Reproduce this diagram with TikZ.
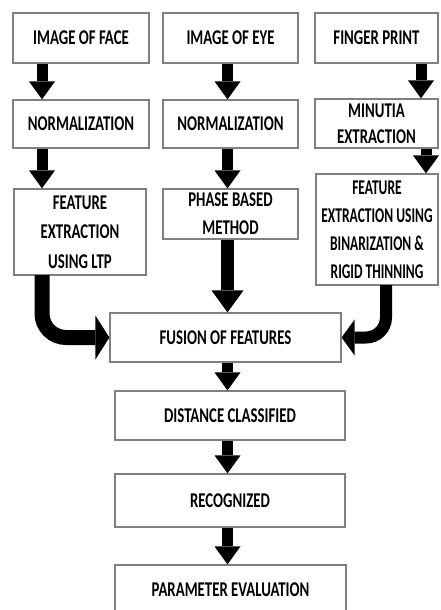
\documentclass[tikz,border=0pt]{standalone}
\usepackage{fontspec}
\newfontfamily\lblfont{Carlito}[FakeStretch=0.705]
\newfontfamily\lblfontn{Carlito}[FakeStretch=0.643]
\usetikzlibrary{arrows.meta,calc}
\definecolor{bordergray}{RGB}{128,128,128}
\begin{document}
\begin{tikzpicture}[x=1pt,y=-1pt,
  box/.style={draw=bordergray, line width=1.2pt, fill=white, inner sep=0pt,
    align=center, text=black,
    font=\lblfont\bfseries\fontsize{21}{29.5}\selectfont},
  tight/.style={font=\lblfont\bfseries\fontsize{21}{26}\selectfont},
  mid/.style={font=\lblfont\bfseries\fontsize{21}{28}\selectfont},
  narrow/.style={font=\lblfontn\bfseries\fontsize{21}{28}\selectfont},
  blk/.style={line width=11pt, -{Triangle[width=26pt,length=18pt,line width=0pt]}},
  bigblk/.style={line width=13pt, -{Triangle[width=32pt,length=22pt,line width=0pt]}},
  curvl/.style={line width=15pt, rounded corners=24pt,
    -{Triangle[width=44pt,length=14pt,line width=0pt]}},
  curvr/.style={line width=12pt, rounded corners=20pt,
    -{Triangle[width=36pt,length=13pt,line width=0pt]}}]
\fill[white] (0,0) rectangle (440,610);
\useasboundingbox (0,0) rectangle (440,610);

% column guides
\coordinate (cA) at (42,0);
\coordinate (cB) at (227.5,0);
\coordinate (cC) at (421,0);
\coordinate (cD) at (426,0);

% boxes
\node[box, minimum width=136pt, minimum height=50pt] (face) at (81,38) {IMAGE OF FACE};
\node[box, minimum width=135pt, minimum height=50pt] (eye) at (230.5,38) {IMAGE OF EYE};
\node[box, minimum width=123pt, minimum height=50pt] (finger) at (376.5,38) {FINGER PRINT};

\node[box, minimum width=136pt, minimum height=48pt] (norm1) at (81,124) {NORMALIZATION};
\node[box, minimum width=135pt, minimum height=48pt] (norm2) at (230.5,124) {NORMALIZATION};
\node[box, tight, minimum width=123pt, minimum height=49pt] (minutia) at (376.5,123.5) {MINUTIA\\EXTRACTION};

\node[box, minimum width=132pt, minimum height=86pt] (feat1) at (80,232) {FEATURE\\EXTRACTION\\USING LTP};
\node[box, mid, minimum width=135pt, minimum height=50pt] (phase) at (230.5,214) {PHASE BASED\\METHOD};
\node[box, narrow, minimum width=122pt, minimum height=111pt] (feat3) at (377,229.5)
  {FEATURE\\EXTRACTION USING\\BINARIZATION \&\\RIGID THINNING};

\node[box, minimum width=231pt, minimum height=49pt] (fusion) at (225.5,337.5) {FUSION OF FEATURES};
\node[box, minimum width=230pt, minimum height=49pt] (dist) at (230,415.5) {DISTANCE CLASSIFIED};
\node[box, minimum width=230pt, minimum height=53pt] (recog) at (230,500.5) {RECOGNIZED};
\node[box, minimum width=231pt, minimum height=50pt] (param) at (230.5,590) {PARAMETER EVALUATION};

% start points of curved arrows
\coordinate (la) at (42,275);
\coordinate (ra) at (386,285);

% straight block arrows
\draw[blk] (face.south -| cA) -- (norm1.north -| cA);
\draw[blk] (norm1.south -| cA) -- (feat1.north -| cA);
\draw[blk] (eye.south -| cB) -- (norm2.north -| cB);
\draw[blk] (norm2.south -| cB) -- (phase.north -| cB);
\draw[blk] (finger.south -| cC) -- (minutia.north -| cC);
\draw[blk] (minutia.south -| cD) -- (feat3.north -| cD);
\draw[bigblk] (phase.south -| cB) -- (fusion.north -| cB);
\draw[blk] (fusion.south -| cB) -- (dist.north -| cB);
\draw[blk] (dist.south -| cB) -- (recog.north -| cB);
\draw[blk] (recog.south -| cB) -- (param.north -| cB);

% curved block arrows
\draw[curvl] (la) |- (fusion.west);
\draw[curvr] (ra) |- (fusion.east);
\end{tikzpicture}
\end{document}
